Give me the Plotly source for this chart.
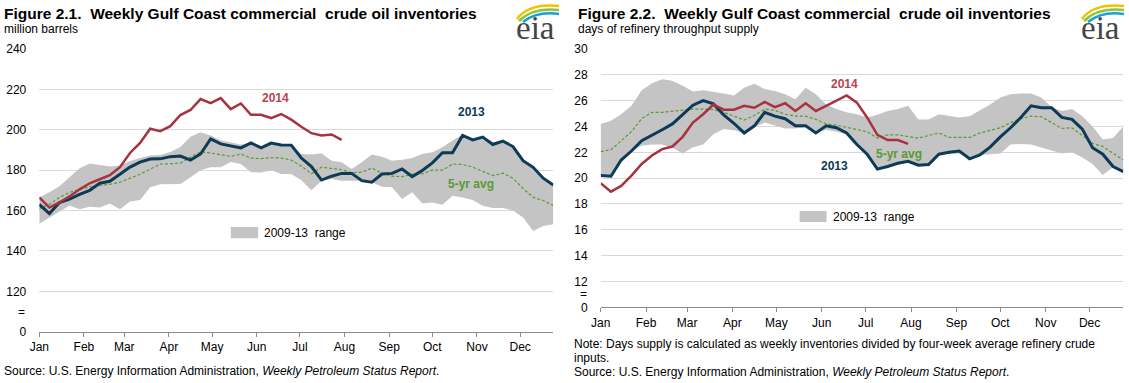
import plotly.graph_objects as go
import pandas as pd

W, H = 1129, 383
FONT = "Liberation Sans, Arial, sans-serif"

# ---------------- data ----------------
week_dates = pd.date_range("2014-01-01", periods=52, freq="7D")
month_ticks = ["2014-%02d-01" % m for m in range(1, 13)]
month_labels = ["Jan", "Feb", "Mar", "Apr", "May", "Jun", "Jul", "Aug", "Sep", "Oct", "Nov", "Dec"]

# Figure 2.1 - million barrels
inv_2013 = [163, 158.5, 164, 165.7, 168, 170, 173.5, 174.5, 178, 181.5, 184, 185.5, 185.6, 186.7,
            187, 185, 188, 195.5, 193, 192, 191, 193.5, 191, 193.4, 192.5, 192.4, 186, 181.8,
            175.1, 177, 178.4, 178.4, 174.8, 174, 178.1, 178.4, 180.6, 176.8, 179.8, 183.6,
            188.6, 188.6, 197.2, 195, 196.4, 192.7, 194.4, 191.7, 184.7, 181.4, 176, 172.6]
inv_2014 = [166.5, 161.5, 164, 167, 170.5, 173.5, 175.5, 177.5, 181.5, 188.5, 193.5, 200.5,
            199.3, 201.8, 207.3, 209.8, 215.2, 213.2, 215.7, 210.2, 213, 207.4, 207.4, 205.8,
            207.8, 205, 201.5, 198.3, 197.2, 197.7, 195]
inv_avg = [161, 163, 166.5, 169, 170.5, 171.8, 172.5, 173, 174, 176, 178, 180.5, 183, 183.2,
           183.5, 186.5, 189, 188.5, 187.5, 186.8, 188, 186, 185.7, 186.2, 186, 185, 182, 178.2,
           181.5, 181, 180.2, 178.8, 179, 181, 178.5, 177, 176.8, 178, 178.2, 180, 180, 183,
           182.8, 181.5, 179.5, 177.3, 178.5, 176, 171, 166.5, 165, 162.5]
inv_max = [166.5, 169, 172, 176.5, 181, 183.3, 182.5, 181.8, 182.3, 184.5, 186, 187.2, 187.5,
           189, 191.5, 196.5, 198.8, 197.2, 194.7, 193.8, 192.7, 193.5, 191.5, 193.5, 192.5,
           192.4, 188, 187.7, 188.4, 184.7, 183.9, 180.6, 183.9, 187.7, 186.7, 184.7, 185.1,
           186, 188, 188.9, 191.4, 194.7, 197.7, 195.5, 196.4, 194, 194.5, 191.7, 184.7, 181.4,
           176.2, 172.6]
inv_min = [153.5, 156.5, 159.5, 162.5, 160.7, 161.9, 161.5, 163.5, 160.7, 164.5, 165.2, 171.5,
           173, 173.1, 173.1, 176.5, 180, 181.4, 181.4, 184, 183, 179, 178.9, 180, 178.1, 178.1,
           175, 170, 174.8, 175.6, 174.8, 174.8, 174.8, 174, 171.8, 171.5, 165.7, 169, 163.5,
           164, 162.9, 167.3, 166.5, 165.2, 162.4, 161.2, 161.2, 160, 156.6, 149.9, 152.4, 153.2]
inv_ticks = [100, 120, 140, 160, 180, 200, 220, 240]
inv_ticktext = ["0", "120", "140", "160", "180", "200", "220", "240"]

# Figure 2.2 - days of refinery throughput supply
days_2013 = [20.2, 20.15, 21.4, 22.1, 22.9, 23.3, 23.75, 24.2, 24.9, 25.65, 26, 25.75, 24.9,
             24.25, 23.5, 24.05, 25.1, 24.8, 24.6, 24.05, 24.05, 23.5, 24.05, 23.9, 23.5, 22.6,
             21.85, 20.7, 20.9, 21.15, 21.3, 21, 21.05, 21.85, 22, 22.1, 21.5, 21.8, 22.4, 23.2,
             23.9, 24.7, 25.6, 25.45, 25.45, 24.7, 24.55, 23.8, 22.35, 21.85, 20.9, 20.5]
days_2014 = [19.6, 18.95, 19.4, 20.2, 21.1, 21.75, 22.25, 22.45, 23.2, 24.3, 24.95, 25.7, 25.3,
             25.3, 25.6, 25.45, 25.9, 25.5, 25.8, 25.2, 25.8, 25.2, 25.6, 26, 26.4, 25.85, 24.7,
             23.35, 22.95, 22.95, 22.65]
days_avg = [22.05, 22.2, 22.9, 23.6, 24.6, 25.1, 25.1, 25.2, 25.3, 25.35, 25.35, 25.3, 25.1,
            24.8, 24.5, 24.85, 25.35, 25.25, 24.95, 24.8, 24.8, 24.55, 24.2, 24.1, 23.95, 23.8,
            23.6, 23.1, 23.35, 23.35, 23.2, 23.1, 23.3, 23.5, 23.15, 23.15, 23.15, 23.5, 23.7,
            23.9, 24.3, 24.6, 24.8, 24.75, 24.3, 23.85, 23.9, 23.3, 22.7, 22.45, 21.9, 21.4]
days_max = [24.2, 24.45, 24.95, 25.6, 26.8, 27.35, 27.65, 27.55, 27.15, 26.7, 26.8, 26.7, 26.55,
            26.4, 27, 27.3, 26.9, 26.75, 26.5, 26.1, 27, 26.5, 25.7, 25.35, 25.1, 24.95, 24.7,
            24.9, 25.2, 25.35, 25.6, 24.55, 24.55, 24.95, 24.8, 24.7, 24.8, 25.25, 25.7, 26.25,
            26.5, 26.55, 26.55, 26.25, 25.5, 25.2, 25.35, 24.8, 24.0, 23.0, 23.1, 24.0]
days_min = [20.2, 20.1, 21.4, 22.1, 22.5, 22.6, 22.6, 22.35, 21.9, 22.4, 22.6, 23.4, 23.8, 23.7,
            23.5, 23.95, 24.3, 24.05, 23.85, 23.85, 23.95, 23.5, 23.75, 23.6, 23.4, 22.6, 21.85,
            20.7, 20.9, 21.15, 21.3, 21, 21.05, 21.85, 21.85, 21.9, 21.5, 21.8, 21.85, 21.9, 22.6,
            22.65, 22.6, 22.4, 22.15, 21.9, 22.0, 21.6, 21.1, 20.25, 20.85, 20.5]
days_ticks = [10, 12, 14, 16, 18, 20, 22, 24, 26, 28, 30]
days_ticktext = ["0", "12", "14", "16", "18", "20", "22", "24", "26", "28", "30"]

# ---------------- styles ----------------
C2013 = "#0d3a56"
C2014 = "#a8323f"
CAVG = "#5a9a32"
CBAND = "#c4c4c4"
CGRID = "#d9d9d9"
CAXIS = "#8c8c8c"


def px(x):
    return x / W


def py(y):
    return 1 - y / H


def day(d):
    return pd.Timestamp("2014-01-01") + pd.Timedelta(days=d)


fig = go.Figure()

panels = [
    ("x", "y", inv_2013, inv_2014, inv_avg, inv_max, inv_min),
    ("x2", "y2", days_2013, days_2014, days_avg, days_max, days_min),
]
for xa, ya, s13, s14, avg, mx, mn in panels:
    fig.add_trace(go.Scatter(x=week_dates, y=mx, mode="lines", line=dict(width=0, color=CBAND),
                             xaxis=xa, yaxis=ya, showlegend=False, hoverinfo="skip"))
    fig.add_trace(go.Scatter(x=week_dates, y=mn, mode="lines", line=dict(width=0, color=CBAND),
                             fill="tonexty", fillcolor=CBAND, xaxis=xa, yaxis=ya,
                             showlegend=False, hoverinfo="skip"))
    fig.add_trace(go.Scatter(x=week_dates, y=avg, mode="lines",
                             line=dict(width=1.2, color=CAVG, dash="3px,2px"),
                             xaxis=xa, yaxis=ya, showlegend=False))
    fig.add_trace(go.Scatter(x=week_dates, y=s13, mode="lines", line=dict(width=3, color=C2013),
                             xaxis=xa, yaxis=ya, showlegend=False))
    fig.add_trace(go.Scatter(x=week_dates[:len(s14)], y=s14, mode="lines",
                             line=dict(width=2.5, color=C2014),
                             xaxis=xa, yaxis=ya, showlegend=False))

xcommon = dict(type="date", range=[week_dates[0], week_dates[-1]], tickvals=month_ticks,
               ticktext=month_labels, ticks="outside", ticklen=4, tickcolor=CAXIS,
               showline=True, linecolor=CAXIS, linewidth=1, showgrid=False, zeroline=False,
               automargin=False,
               tickfont=dict(family=FONT, size=12, color="#000000"), fixedrange=True)
ycommon = dict(showgrid=True, gridcolor=CGRID, gridwidth=1, zeroline=False, showline=False,
               ticks="", ticklabelstandoff=12, automargin=False,
               tickfont=dict(family=FONT, size=12, color="#000000"), fixedrange=True)

fig.update_layout(
    width=W, height=383, autosize=False,
    margin=dict(l=0, r=0, t=0, b=0, autoexpand=False),
    paper_bgcolor="white", plot_bgcolor="white",
    showlegend=False,
    xaxis=dict(domain=[px(39.3), px(553.3)], anchor="y", **xcommon),
    yaxis=dict(domain=[py(331.7), py(49)], anchor="x", range=[100, 240],
               tickvals=inv_ticks, ticktext=inv_ticktext, **ycommon),
    xaxis2=dict(domain=[px(600.7), px(1123.3)], anchor="y2", **xcommon),
    yaxis2=dict(domain=[py(307.3), py(49)], anchor="x2", range=[10, 30],
                tickvals=days_ticks, ticktext=days_ticktext, **ycommon),
)

ann = []


def text(x, y, s, size=12, color="#000000", bold=False, xanchor="left", xref="paper",
         yref="paper", family=FONT):
    ann.append(dict(x=x, y=y, xref=xref, yref=yref, text=("<b>%s</b>" % s) if bold else s,
                    showarrow=False, xanchor=xanchor, yanchor="middle",
                    font=dict(family=family, size=size, color=color)))


# titles and subtitles
text(px(2), py(13), "Figure 2.1.  Weekly Gulf Coast commercial  crude oil inventories", size=15.5, bold=True)
text(px(2), py(29), "million barrels", size=12)
text(px(576), py(13), "Figure 2.2.  Weekly Gulf Coast commercial  crude oil inventories", size=15.5, bold=True)
text(px(576), py(29), "days of refinery throughput supply", size=12)

# footers
text(px(2), py(371), "Source: U.S. Energy Information Administration, <i>Weekly Petroleum Status Report</i>.")
text(px(572), py(344), "Note: Days supply is calculated as weekly inventories divided by four-week average refinery crude")
text(px(572), py(358), "inputs.")
text(px(572), py(372), "Source: U.S. Energy Information Administration, <i>Weekly Petroleum Status Report</i>.")

# axis break marks
text(px(27), 110, "=", xanchor="right", yref="y")
text(px(589), 11, "=", xanchor="right", yref="y2")

# series labels
text(day(164), 215.7, "2014", bold=True, color="#b8434e", xanchor="center", xref="x", yref="y")
text(day(300), 208.9, "2013", bold=True, color=C2013, xanchor="center", xref="x", yref="y")
text(day(300), 173.1, "5-yr avg", bold=True, color=CAVG, xanchor="center", xref="x", yref="y")
text(day(166.5), 27.28, "2014", bold=True, color="#b8434e", xanchor="center", xref="x2", yref="y2")
text(day(204), 21.84, "5-yr avg", bold=True, color=CAVG, xanchor="center", xref="x2", yref="y2")
text(day(159.5), 20.94, "2013", bold=True, color=C2013, xanchor="center", xref="x2", yref="y2")

# legend boxes for range
shapes = []
shapes.append(dict(type="rect", xref="x", yref="y", x0=day(133), x1=day(152), y0=146.3, y1=151.9,
                   fillcolor=CBAND, line=dict(width=0), layer="above"))
text(day(154.5), 148.9, "2009-13  range", xref="x", yref="y")
shapes.append(dict(type="rect", xref="x2", yref="y2", x0=day(135.9), x1=day(154.3), y0=16.6,
                   y1=17.45, fillcolor=CBAND, line=dict(width=0), layer="above"))
text(day(157.5), 17.0, "2009-13  range", xref="x2", yref="y2")


# eia logos
def logo(dx):
    arcs = [
        ((517, 19), (529, 3), (559, 6), "#f2c200"),
        ((519, 21), (533, 7), (559, 10), "#8cc63e"),
        ((523, 22), (537, 11), (559, 14), "#1a9fd8"),
    ]
    for (x0, y0), (xc, yc), (x1, y1), col in arcs:
        path = "M %f %f Q %f %f %f %f" % (px(x0 + dx), py(y0), px(xc + dx), py(yc), px(x1 + dx), py(y1))
        shapes.append(dict(type="path", xref="paper", yref="paper", path=path,
                           line=dict(color=col, width=2.5)))
    text(px(535 + dx), py(28), "eia", size=33, color="#454545", xanchor="center",
         family="Liberation Serif, Times New Roman, serif")


logo(0)
logo(565)

fig.update_layout(annotations=ann, shapes=shapes)
fig.write_html("out.html", config={"displayModeBar": False},
               post_script="document.body.style.margin='0';document.body.style.overflow='hidden';")
